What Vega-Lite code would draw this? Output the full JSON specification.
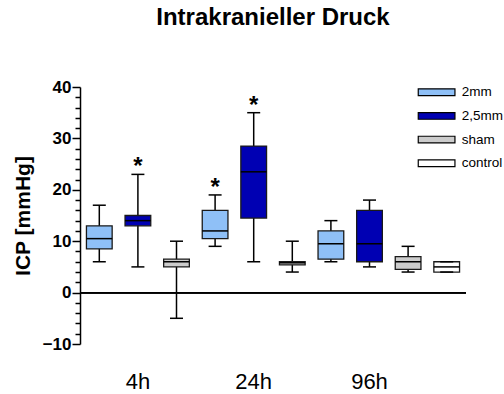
{
  "$schema": "https://vega.github.io/schema/vega-lite/v6.json",
  "width": 386,
  "height": 257,
  "autosize": "none",
  "padding": {"left": 80, "top": 87, "right": 38, "bottom": 50},
  "background": "white",
  "title": {"text": "Intrakranieller Druck", "fontSize": 24, "font": "Liberation Sans", "fontWeight": "bold", "color": "black", "anchor": "middle", "frame": "group", "baseline": "alphabetic", "offset": 29},
  "config": {
    "view": {"stroke": null},
    "font": "Liberation Sans",
    "axisX": {"title": null, "domain": false, "ticks": false, "tickSize": 0, "labelFontSize": 22, "labelFont": "Liberation Sans", "labelColor": "black", "labelAngle": 0, "labelBaseline": "alphabetic", "labelPadding": 44, "labelOverlap": false}
  },
  "data": {"values": [
    {"slot": "4h 2mm", "time": "4h", "group": "2mm", "min": 6, "q1": 8.5, "median": 10.5, "q3": 13, "max": 17, "star": false},
    {"slot": "4h 2,5mm", "time": "4h", "group": "2,5mm", "min": 5, "q1": 13, "median": 14, "q3": 15, "max": 23, "star": true},
    {"slot": "4h sham", "time": "4h", "group": "sham", "min": -5, "q1": 5, "median": 6, "q3": 6.5, "max": 10, "star": false},
    {"slot": "24h 2mm", "time": "24h", "group": "2mm", "min": 9, "q1": 10.5, "median": 12, "q3": 16, "max": 19, "star": true},
    {"slot": "24h 2,5mm", "time": "24h", "group": "2,5mm", "min": 6, "q1": 14.5, "median": 23.5, "q3": 28.5, "max": 35, "star": true},
    {"slot": "24h sham", "time": "24h", "group": "sham", "min": 4, "q1": 5.4, "median": 5.8, "q3": 6, "max": 10, "star": false},
    {"slot": "96h 2mm", "time": "96h", "group": "2mm", "min": 6, "q1": 6.5, "median": 9.5, "q3": 12, "max": 14, "star": false},
    {"slot": "96h 2,5mm", "time": "96h", "group": "2,5mm", "min": 5, "q1": 6, "median": 9.5, "q3": 16, "max": 18, "star": false},
    {"slot": "96h sham", "time": "96h", "group": "sham", "min": 4, "q1": 4.5, "median": 6, "q3": 7, "max": 9, "star": false},
    {"slot": "control", "time": "", "group": "control", "min": 4, "q1": 4, "median": 5, "q3": 6, "max": 6, "star": false}
  ]},
  "layer": [
    {
      "mark": {"type": "rule", "color": "black", "strokeWidth": 1.5},
      "encoding": {
        "x": {
          "field": "slot", "type": "nominal", "sort": null,
          "scale": {"type": "band", "paddingInner": 0.334, "paddingOuter": 0.167},
          "axis": {"labelExpr": "datum.value === '4h 2,5mm' ? '4h' : datum.value === '24h 2,5mm' ? '24h' : datum.value === '96h 2,5mm' ? '96h' : ''"}
        },
        "y": {
          "field": "min", "type": "quantitative",
          "scale": {"domain": [-10, 40], "nice": false, "zero": false},
          "axis": {"orient": "left", "values": [-10, 0, 10, 20, 30, 40], "tickSize": 8, "tickWidth": 1.5, "tickColor": "black", "domainColor": "black", "domainWidth": 1.5, "labelFontSize": 17, "labelFontWeight": "bold", "labelFont": "Liberation Sans", "labelColor": "black", "labelPadding": 1, "grid": false, "title": "ICP [mmHg]", "titleFontSize": 21, "titleFont": "Liberation Sans", "titleFontWeight": "bold", "titleColor": "black", "titleAngle": -90, "titleX": -57, "titleY": 128.5, "titleAlign": "center", "titleBaseline": "middle"}
        },
        "y2": {"field": "max"}
      }
    },
    {
      "mark": {"type": "bar", "stroke": "#1a1a1a", "strokeWidth": 1.3},
      "encoding": {
        "x": {"field": "slot", "type": "nominal", "sort": null, "axis": {"labelExpr": "datum.value === '4h 2,5mm' ? '4h' : datum.value === '24h 2,5mm' ? '24h' : datum.value === '96h 2,5mm' ? '96h' : ''"}},
        "y": {"field": "q1", "type": "quantitative", "axis": null},
        "y2": {"field": "q3"},
        "color": {
          "field": "group", "type": "nominal",
          "scale": {"domain": ["2mm", "2,5mm", "sham", "control"], "range": ["#8fc0f7", "#0000b3", "#cccccc", "#ffffff"]},
          "legend": {"title": null, "orient": "none", "legendX": 349.6, "legendY": -1.8, "symbolType": "M -3 -0.55 L 3 -0.55 L 3 0.55 L -3 0.55 Z", "symbolSize": 149.6, "symbolStrokeColor": "black", "symbolStrokeWidth": 1.2, "symbolOpacity": 1, "labelFontSize": 13.5, "labelFont": "Liberation Sans", "labelColor": "black", "labelOffset": 18.2, "rowPadding": 9.7, "padding": 0}
        }
      }
    },
    {
      "mark": {"type": "tick", "size": 13, "thickness": 1.5, "color": "black", "opacity": 1},
      "encoding": {
        "x": {"field": "slot", "type": "nominal", "sort": null, "axis": {"labelExpr": "datum.value === '4h 2,5mm' ? '4h' : datum.value === '24h 2,5mm' ? '24h' : datum.value === '96h 2,5mm' ? '96h' : ''"}},
        "y": {"field": "max", "type": "quantitative", "axis": null}
      }
    },
    {
      "mark": {"type": "tick", "size": 13, "thickness": 1.5, "color": "black", "opacity": 1},
      "encoding": {
        "x": {"field": "slot", "type": "nominal", "sort": null, "axis": {"labelExpr": "datum.value === '4h 2,5mm' ? '4h' : datum.value === '24h 2,5mm' ? '24h' : datum.value === '96h 2,5mm' ? '96h' : ''"}},
        "y": {"field": "min", "type": "quantitative", "axis": null}
      }
    },
    {
      "mark": {"type": "tick", "size": 25.7, "thickness": 1.5, "color": "black", "opacity": 1},
      "encoding": {
        "x": {"field": "slot", "type": "nominal", "sort": null, "axis": {"labelExpr": "datum.value === '4h 2,5mm' ? '4h' : datum.value === '24h 2,5mm' ? '24h' : datum.value === '96h 2,5mm' ? '96h' : ''"}},
        "y": {"field": "median", "type": "quantitative", "axis": null}
      }
    },
    {
      "transform": [{"filter": "datum.star"}],
      "mark": {"type": "text", "text": "*", "fontSize": 24, "fontWeight": "bold", "font": "Liberation Sans", "baseline": "alphabetic", "align": "center", "color": "black"},
      "encoding": {
        "x": {"field": "slot", "type": "nominal", "sort": null, "axis": {"labelExpr": "datum.value === '4h 2,5mm' ? '4h' : datum.value === '24h 2,5mm' ? '24h' : datum.value === '96h 2,5mm' ? '96h' : ''"}},
        "y": {"field": "max", "type": "quantitative", "axis": null}
      }
    },
    {
      "mark": {"type": "rule", "color": "black", "strokeWidth": 1.2},
      "encoding": {
        "y": {
          "datum": 0, "type": "quantitative",
          "axis": {"orient": "left", "values": [-8, -6, -4, -2, 2, 4, 6, 8, 12, 14, 16, 18, 22, 24, 26, 28, 32, 34, 36, 38], "tickSize": 5, "tickWidth": 1.5, "tickColor": "black", "labels": false, "domain": false, "grid": false, "title": null}
        }
      }
    }
  ],
  "resolve": {"axis": {"y": "independent"}}
}
